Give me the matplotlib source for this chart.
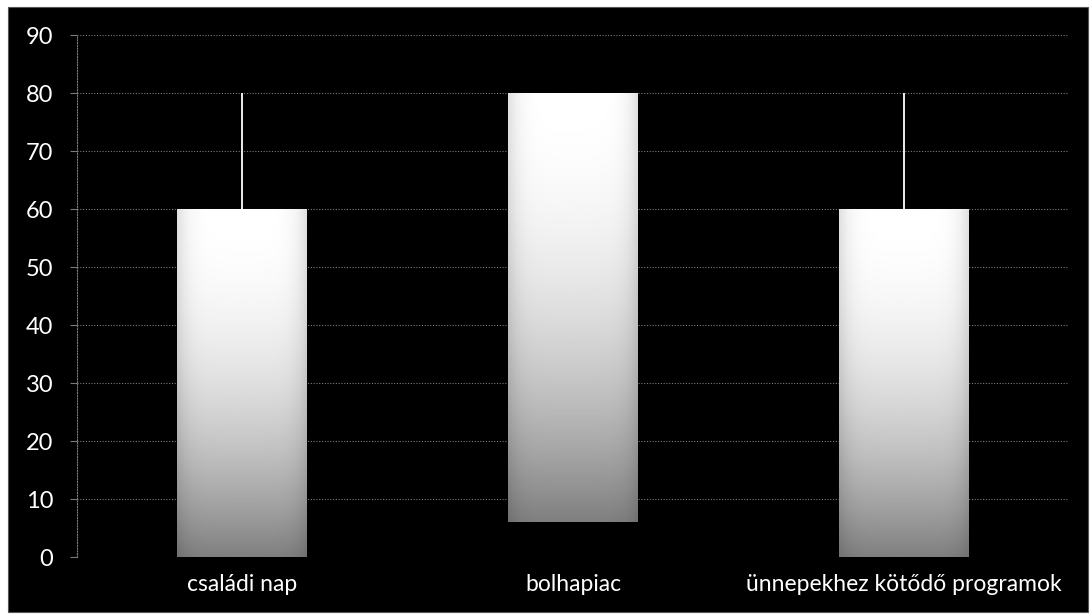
#!/usr/bin/env python3

# Stock-style chart (high-low lines with up bars) on black background

import matplotlib.pyplot as plt
from matplotlib.patches import Rectangle
import numpy as np

categories = ['családi nap', 'bolhapiac', 'ünnepekhez kötődő programok']
bar_bottom = [0, 6, 0]
bar_top = [60, 80, 60]
high = [80, 80, 80]
low = [0, 6, 0]
y_ticks = [0, 10, 20, 30, 40, 50, 60, 70, 80, 90]


def main():
    plt.rcParams['font.family'] = ['Lato', 'DejaVu Sans']

    fig = plt.figure(figsize=(10.92, 6.16), dpi=100, facecolor='white')
    # black chart frame, behind the axes
    fig.patches.append(Rectangle((8 / 1092, 4 / 616), 1080 / 1092, 605 / 616,
                                 transform=fig.transFigure, facecolor='black',
                                 edgecolor='#555555', linewidth=0.8, zorder=-5))

    ax = fig.add_axes([77 / 1092, 1 - 557 / 616, 992 / 1092, (557 - 35) / 616])
    ax.set_facecolor('black')
    ax.set_zorder(1)

    x = np.arange(len(categories))

    # high-low lines
    ax.vlines(x, low, high, color='white', linewidth=1.3, zorder=2)

    heights = [t - b for t, b in zip(bar_top, bar_bottom)]
    bars = ax.bar(x, heights, bottom=bar_bottom, width=0.393,
                  color='none', edgecolor='none', zorder=3)

    # vertical white-to-gray gradient, a little darker at the sides
    t = np.linspace(0, 1, 256)[:, None]          # 0 bottom, 1 top
    s = np.linspace(-1, 1, 64)[None, :]
    vert = 1 - 0.5 * (1 - t) ** 2
    side = 1 - 0.12 * np.abs(s) ** 6
    grad = np.clip(vert * side, 0, 1)
    for bar in bars:
        x0, y0 = bar.get_x(), bar.get_y()
        w, h = bar.get_width(), bar.get_height()
        im = ax.imshow(grad, cmap='gray', vmin=0, vmax=1, origin='lower',
                       extent=[x0, x0 + w, y0, y0 + h], aspect='auto',
                       interpolation='bilinear', zorder=3)
        im.set_clip_path(bar)

    ax.set_xlim(-0.5, len(categories) - 0.5)
    ax.set_ylim(0, 90)
    ax.set_yticks(y_ticks)
    ax.set_xticks(x)
    ax.set_xticklabels(categories)
    ax.set_axisbelow(True)
    ax.grid(axis='y', color='#7a7a7a', linestyle=(0, (1, 1.5)), linewidth=0.8)

    for side_name in ['top', 'right', 'bottom']:
        ax.spines[side_name].set_visible(False)
    ax.spines['left'].set_color('#7a7a7a')
    ax.spines['left'].set_linestyle((0, (1, 1.5)))
    ax.spines['left'].set_linewidth(0.8)

    ax.tick_params(axis='y', colors='#7a7a7a', labelcolor='white',
                   labelsize=17, length=5, width=0.8, pad=12)
    ax.tick_params(axis='x', labelcolor='white', labelsize=16.5,
                   length=0, pad=12)

    fig.savefig('out.png', dpi=100, facecolor=fig.get_facecolor())


if __name__ == "__main__":
    main()
